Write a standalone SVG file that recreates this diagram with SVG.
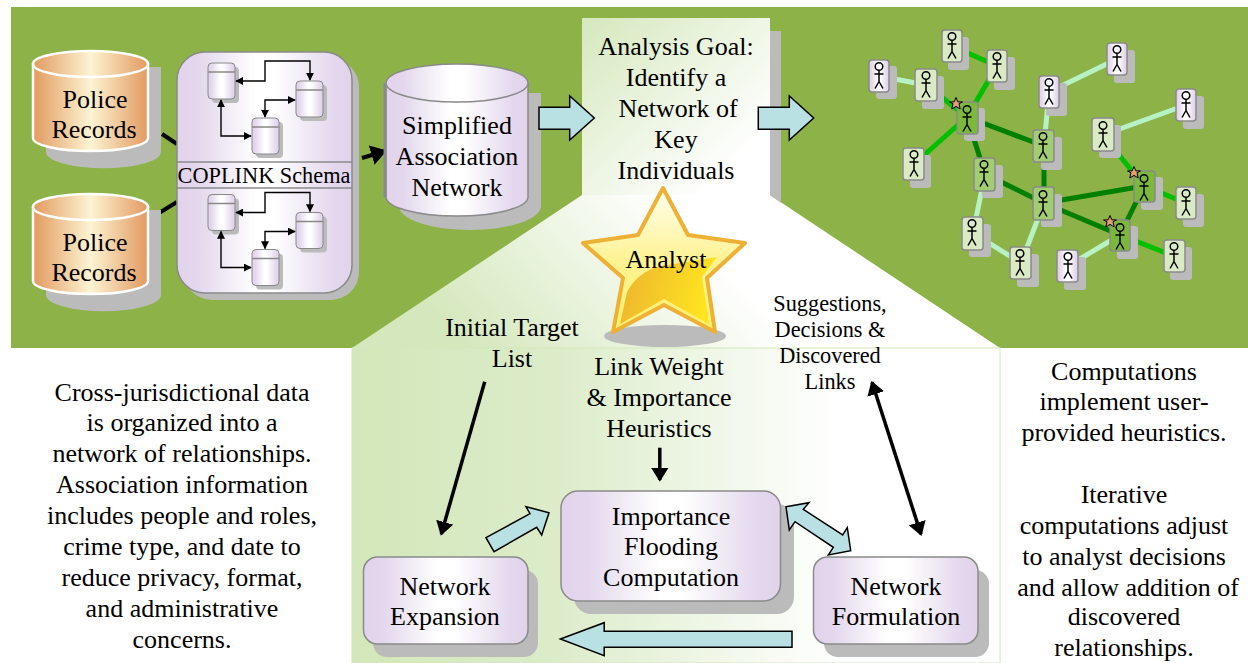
<svg xmlns="http://www.w3.org/2000/svg" xmlns:xlink="http://www.w3.org/1999/xlink" width="1248" height="663" viewBox="0 0 1248 663">
<defs>
<linearGradient id="orange" x1="0" x2="1" y1="0" y2="0"><stop offset="0" stop-color="#e29a60"/><stop offset=".5" stop-color="#fdf4d3"/><stop offset="1" stop-color="#e29a60"/></linearGradient>
<linearGradient id="purple" x1="0" x2="1" y1="0" y2="0"><stop offset="0" stop-color="#e1d3eb"/><stop offset=".12" stop-color="#e3d7ed"/><stop offset=".45" stop-color="#ffffff"/><stop offset=".55" stop-color="#ffffff"/><stop offset=".9" stop-color="#e3d7ed"/><stop offset="1" stop-color="#e1d3eb"/></linearGradient>
<linearGradient id="goal" gradientUnits="userSpaceOnUse" x1="582" y1="18" x2="730" y2="170"><stop offset="0" stop-color="#d5e8bd"/><stop offset="1" stop-color="#ffffff"/></linearGradient>
<linearGradient id="trap" gradientUnits="userSpaceOnUse" x1="480" y1="360" x2="660" y2="195"><stop offset="0" stop-color="#d5e8bd"/><stop offset="1" stop-color="#ffffff"/></linearGradient>
<linearGradient id="panel" x1="0" x2="1" y1="0" y2="0"><stop offset="0" stop-color="#d3e7ba"/><stop offset=".3" stop-color="#dbecc8"/><stop offset=".75" stop-color="#ffffff"/></linearGradient>
<linearGradient id="starL" x1="0" x2="0" y1="0" y2="1"><stop offset="0" stop-color="#fffef0"/><stop offset=".5" stop-color="#fff394"/><stop offset="1" stop-color="#fff06a"/></linearGradient>
<linearGradient id="starD" gradientUnits="userSpaceOnUse" x1="625" y1="290" x2="705" y2="310"><stop offset="0" stop-color="#efb92f"/><stop offset="1" stop-color="#ffe41f"/></linearGradient>
<marker id="ah" viewBox="0 0 8 10" refX="7" refY="5" markerWidth="4" markerHeight="5" orient="auto-start-reverse"><path d="M0 0L8 5L0 10Z" fill="#000"/></marker>
<marker id="as" viewBox="0 0 10 10" refX="9" refY="5" markerWidth="8" markerHeight="8" orient="auto-start-reverse" markerUnits="userSpaceOnUse"><path d="M0 0L10 5L0 10Z" fill="#000"/></marker>
<g id="person" fill="none" stroke="#000" stroke-width="1.500"><circle cx="0" cy="-9.500" r="3.800"/><path d="M0-5.500V5.500M-4.500-2H4.500M0 5.500L-4 12.500M0 5.500L4 12.500"/></g>
<g id="mini">
<rect x="4" y="4" width="27" height="36" rx="4" fill="#bbb"/>
<rect x="0" y="0" width="27" height="36" rx="4" fill="url(#purple)" stroke="#888" stroke-width="1"/>
<path d="M0 9H27" stroke="#888" stroke-width="1.500"/>
</g>
<g id="miniArrows" fill="none" stroke="#000" stroke-width="1.400">
<path d="M236 81H265V61H310V80" marker-start="url(#as)" marker-end="url(#as)"/>
<path d="M295 100H265V117" marker-start="url(#as)" marker-end="url(#as)"/>
<path d="M221 100V136H251" marker-start="url(#as)" marker-end="url(#as)"/>
</g>
<g id="star5"><path d="M0-6.500L1.800-2.200 6.500-2 3-.3 4.200 5 0 2.400-4.200 5-3-.3-6.500-2-1.800-2.200Z" fill="#e2a06e" stroke="#000" stroke-width="1"/></g>
</defs>
<style>
text{font-family:"Liberation Serif","Times New Roman",serif;fill:#000;text-anchor:middle}
.t24{font-size:26px}.t20{font-size:22.300px}
.sh{fill:#bbb}
.box{fill:url(#purple);stroke:#8a8a8a;stroke-width:1.500}
.blk{fill:#b9e0e3;stroke:#000;stroke-width:1.500}
.pw{fill:url(#purple);stroke:#8a8a8a;stroke-width:1.500}
.pl{fill:#d9eac5;stroke:#8a8a8a;stroke-width:1.500}
.pm{fill:#a3cd72;stroke:#8a8a8a;stroke-width:1.500}
.pd{fill:#7cb93a;stroke:#8a8a8a;stroke-width:1.500}
.e1{stroke:#b6f2c4;stroke-width:5;fill:none}
.e2{stroke:#00c000;stroke-width:5;fill:none}
.e3{stroke:#008000;stroke-width:5;fill:none}
</style>
<rect width="1248" height="663" fill="#fff"/>
<rect x="11" y="7" width="1237" height="341" fill="#8db247"/>
<polygon points="582,195 770,195 1000,348 352,348" fill="url(#trap)"/>
<rect x="352" y="348" width="648" height="315" fill="url(#panel)" stroke="#d3e7ba" stroke-width="1"/>
<rect x="770" y="31" width="11" height="164" fill="#bbb"/>
<polygon points="770,195 781,195 781,203" fill="#bbb"/>
<rect x="582" y="18" width="188" height="177" fill="url(#goal)"/>

<g id="connectors-back">
<g fill="none" stroke="#000">
<path d="M162 134L177 144" stroke-width="4"/>
<path d="M159 213L177 202" stroke-width="4"/>
<path d="M362 158L385 151" stroke-width="4" marker-end="url(#ah)"/>
</g>
<g id="net-edges">
<path class="e1" d="M879 76L926 85"/><path class="e2" d="M926 85L967 117"/><path class="e2" d="M952 46L997 66"/><path class="e2" d="M997 66L967 117"/><path class="e2" d="M967 117L914 164"/>
<path class="e3" d="M967 117L1044 146"/><path class="e3" d="M967 117L985 174"/><path class="e3" d="M985 174L1044 203"/><path class="e3" d="M1044 146V203"/>
<path class="e1" d="M1049 92L1044 146"/><path class="e1" d="M1049 92L1117 59"/><path class="e1" d="M985 174L973 233"/><path class="e1" d="M973 233L1021 263"/><path class="e1" d="M1044 203L1021 263"/>
<path class="e1" d="M1103 135L1186 105"/><path class="e2" d="M1103 135L1144 186"/><path class="e2" d="M1144 186L1186 203"/>
<path class="e3" d="M1144 186L1044 203"/><path class="e3" d="M1044 203L1120 235"/><path class="e3" d="M1144 186L1120 235"/><path class="e2" d="M1120 235L1174 256"/><path class="e1" d="M1120 235L1068 266"/>
</g>
</g>

<g id="police1">
<path class="sh" d="M46 67H161V152A57 16 0 0 1 46 152Z"/>
<path d="M33 64V138A57.500 13 0 0 0 148 138V64Z" fill="url(#orange)" stroke="#fff" stroke-width="2.500"/>
<ellipse cx="90.500" cy="64" rx="57.500" ry="13" fill="url(#orange)" stroke="#fff" stroke-width="2.500"/>
<text class="t24" x="95" y="108">Police</text><text class="t24" x="94" y="138">Records</text>
</g>
<g id="police2">
<path class="sh" d="M46 210H161V295A57 16 0 0 1 46 295Z"/>
<path d="M33 207V281A57.500 13 0 0 0 148 281V207Z" fill="url(#orange)" stroke="#fff" stroke-width="2.500"/>
<ellipse cx="90.500" cy="207" rx="57.500" ry="13" fill="url(#orange)" stroke="#fff" stroke-width="2.500"/>
<text class="t24" x="95" y="251">Police</text><text class="t24" x="94" y="281">Records</text>
</g>
<g id="schema">
<rect class="sh" x="184" y="59" width="175" height="241" rx="28"/>
<rect class="box" x="177" y="52" width="175" height="241" rx="28"/>
<path d="M177 162H352M177 188H352" stroke="#8a8a8a" stroke-width="1.500"/>
<text class="t20" x="264" y="183">COPLINK Schema</text>
<use xlink:href="#mini" href="#mini" x="208" y="63"/><use xlink:href="#mini" href="#mini" x="296" y="81"/><use xlink:href="#mini" href="#mini" x="252" y="118"/>
<use xlink:href="#miniArrows" href="#miniArrows"/>
<use xlink:href="#mini" href="#mini" x="208" y="194.500"/><use xlink:href="#mini" href="#mini" x="296" y="212.500"/><use xlink:href="#mini" href="#mini" x="252" y="249.500"/>
<use xlink:href="#miniArrows" href="#miniArrows" y="131.500"/>
</g>
<g id="simplified">
<path class="sh" d="M399 93H541V206A71 24 0 0 1 399 206Z"/>
<path d="M386 83V197A71 19 0 0 0 528 197V83Z" fill="url(#purple)" stroke="#8a8a8a" stroke-width="1.500"/>
<path d="M385 83V197" stroke="#8a8a8a" stroke-width="3"/>
<ellipse cx="457" cy="83" rx="71" ry="19" fill="url(#purple)" stroke="#8a8a8a" stroke-width="1.500"/>
<text class="t24" x="457" y="134">Simplified</text><text class="t24" x="457" y="165">Association</text><text class="t24" x="457" y="196">Network</text>
</g>
<g id="goal-box">
<text class="t24" x="676" y="55">Analysis Goal:</text><text class="t24" x="676" y="86">Identify a</text><text class="t24" x="678" y="117">Network of</text><text class="t24" x="676" y="148">Key</text><text class="t24" x="676" y="179">Individuals</text>
</g>
<g id="analyst">
<ellipse cx="665" cy="336" rx="61" ry="11" fill="#bbb"/>
<polygon points="663,188 688,235 745,243 707,278 715,332 664,305 613,332 623,278 583,243 638,235" fill="url(#starL)" stroke="#eeb136" stroke-width="4" stroke-linejoin="round"/>
<path d="M627 292Q640 268 668 265L717 257 702 277 709 324 664 299 620 324Z" fill="url(#starD)"/>
<text class="t24" x="666" y="268">Analyst</text>
</g>
<g id="network-nodes">
<g id="p1"><rect class="sh" x="876" y="66" width="21" height="33" rx="3"/><rect class="pw" x="869" y="60" width="20" height="32" rx="3"/><use xlink:href="#person" href="#person" x="879" y="76"/></g>
<g id="p2"><rect class="sh" x="922" y="76" width="22" height="33" rx="3"/><rect class="pl" x="915" y="69" width="22" height="32" rx="3"/><use xlink:href="#person" href="#person" x="926" y="85"/></g>
<g id="p3"><rect class="sh" x="948" y="37" width="21" height="33" rx="3"/><rect class="pl" x="942" y="30" width="20" height="32" rx="3"/><use xlink:href="#person" href="#person" x="952" y="46"/></g>
<g id="p4"><rect class="sh" x="994" y="57" width="21" height="33" rx="3"/><rect class="pl" x="987" y="50" width="20" height="32" rx="3"/><use xlink:href="#person" href="#person" x="997" y="66"/></g>
<g id="p5"><rect class="sh" x="964" y="108" width="21" height="33" rx="3"/><rect class="pd" x="957" y="102" width="21" height="32" rx="3"/><use xlink:href="#person" href="#person" x="967" y="119"/><use xlink:href="#star5" href="#star5" x="956" y="104"/></g>
<g id="p6"><rect class="sh" x="910" y="155" width="21" height="33" rx="3"/><rect class="pl" x="903" y="148" width="21" height="32" rx="3"/><use xlink:href="#person" href="#person" x="914" y="164"/></g>
<g id="p7"><rect class="sh" x="1046" y="83" width="21" height="33" rx="3"/><rect class="pw" x="1039" y="76" width="20" height="32" rx="3"/><use xlink:href="#person" href="#person" x="1049" y="92"/></g>
<g id="p8"><rect class="sh" x="1114" y="50" width="21" height="33" rx="3"/><rect class="pw" x="1107" y="43" width="20" height="32" rx="3"/><use xlink:href="#person" href="#person" x="1117" y="59"/></g>
<g id="p9"><rect class="sh" x="1041" y="137" width="21" height="33" rx="3"/><rect class="pm" x="1033" y="130" width="21" height="32" rx="3"/><use xlink:href="#person" href="#person" x="1043" y="146"/></g>
<g id="p10"><rect class="sh" x="982" y="165" width="21" height="33" rx="3"/><rect class="pm" x="974" y="158" width="21" height="33" rx="3"/><use xlink:href="#person" href="#person" x="984" y="174"/></g>
<g id="p11"><rect class="sh" x="1041" y="194" width="21" height="33" rx="3"/><rect class="pm" x="1033" y="187" width="21" height="33" rx="3"/><use xlink:href="#person" href="#person" x="1043" y="204"/></g>
<g id="p12"><rect class="sh" x="969" y="224" width="22" height="33" rx="3"/><rect class="pl" x="962" y="217" width="21" height="33" rx="3"/><use xlink:href="#person" href="#person" x="972" y="233"/></g>
<g id="p13"><rect class="sh" x="1017" y="254" width="22" height="33" rx="3"/><rect class="pl" x="1010" y="247" width="21" height="32" rx="3"/><use xlink:href="#person" href="#person" x="1020" y="263"/></g>
<g id="p14"><rect class="sh" x="1099" y="125" width="22" height="33" rx="3"/><rect class="pl" x="1092" y="118" width="22" height="33" rx="3"/><use xlink:href="#person" href="#person" x="1103" y="135"/></g>
<g id="p15"><rect class="sh" x="1183" y="96" width="21" height="33" rx="3"/><rect class="pw" x="1176" y="89" width="20" height="32" rx="3"/><use xlink:href="#person" href="#person" x="1186" y="105"/></g>
<g id="p16"><rect class="sh" x="1141" y="177" width="22" height="33" rx="3"/><rect class="pd" x="1134" y="171" width="21" height="31" rx="3"/><use xlink:href="#person" href="#person" x="1144" y="188"/><use xlink:href="#star5" href="#star5" x="1134" y="173"/></g>
<g id="p17"><rect class="sh" x="1183" y="194" width="21" height="33" rx="3"/><rect class="pl" x="1176" y="187" width="20" height="32" rx="3"/><use xlink:href="#person" href="#person" x="1186" y="203"/></g>
<g id="p18"><rect class="sh" x="1117" y="226" width="21" height="33" rx="3"/><rect class="pd" x="1110" y="220" width="20" height="31" rx="3"/><use xlink:href="#person" href="#person" x="1120" y="237"/><use xlink:href="#star5" href="#star5" x="1110" y="222"/></g>
<g id="p19"><rect class="sh" x="1170" y="247" width="22" height="33" rx="3"/><rect class="pl" x="1164" y="240" width="21" height="32" rx="3"/><use xlink:href="#person" href="#person" x="1174" y="256"/></g>
<g id="p20"><rect class="sh" x="1064" y="257" width="22" height="33" rx="3"/><rect class="pw" x="1057" y="250" width="21" height="32" rx="3"/><use xlink:href="#person" href="#person" x="1068" y="266"/></g>
</g>
<g id="expansion">
<rect class="sh" x="373" y="570" width="165" height="87" rx="14"/>
<rect class="box" x="363.500" y="557" width="164.500" height="87" rx="14"/>
<text class="t24" x="445" y="595">Network</text><text class="t24" x="445" y="625">Expansion</text>
</g>
<g id="importance">
<rect class="sh" x="574" y="504" width="220" height="110" rx="17"/>
<rect class="box" x="561" y="491" width="219.500" height="110" rx="17"/>
<text class="t24" x="671" y="525">Importance</text><text class="t24" x="671" y="555">Flooding</text><text class="t24" x="671" y="586">Computation</text>
</g>
<g id="formulation">
<rect class="sh" x="824" y="570" width="165" height="87" rx="14"/>
<rect class="box" x="813.500" y="557" width="164.500" height="87" rx="14"/>
<text class="t24" x="896" y="595">Network</text><text class="t24" x="896" y="625">Formulation</text>
</g>
<g id="connectors">
<g fill="none" stroke="#000">
<path d="M484.700 381.700L441.300 534" stroke-width="3.500" marker-end="url(#ah)"/>
<path d="M659.800 447.700V480" stroke-width="3.500" marker-end="url(#ah)"/>
<path d="M872 382.300L921 534.300" stroke-width="3.500" marker-start="url(#ah)" marker-end="url(#ah)"/>
</g>
<polygon class="blk" points="539,107.300 569.700,107.300 569.700,96 594.300,118 569.700,140 569.700,129.300 539,129.300"/>
<polygon class="blk" points="758.300,107.300 789.300,107.300 789.300,96 813.700,118 789.300,140 789.300,129.300 758.300,129.300"/>
<polygon class="blk" points="486,537.700 530,513.700 526,506.700 549,512.700 541.700,535 536.700,527.300 494,551.700"/>
<polygon class="blk" points="786,506.700 809,502.700 803.300,509.300 842.700,535 847.300,527.700 850.700,550.700 828.300,555 833.300,547.300 795,521.700 789.300,530"/>
<polygon class="blk" points="560.400,639 604.200,622.700 604.200,631.300 792,631.300 792,647.300 604.200,647.300 604.200,655.700"/>
</g>
<g id="labels">
<text class="t24" x="512" y="336">Initial Target</text><text class="t24" x="512" y="367">List</text>
<text class="t24" x="659" y="375">Link Weight</text><text class="t24" x="659" y="406">&amp; Importance</text><text class="t24" x="659" y="437">Heuristics</text>
<text class="t20" x="830" y="311">Suggestions,</text><text class="t20" x="830" y="337">Decisions &amp;</text><text class="t20" x="830" y="363">Discovered</text><text class="t20" x="830" y="389">Links</text>
<text class="t24" x="182" y="401">Cross-jurisdictional data</text><text class="t24" x="182" y="431">is organized into a</text><text class="t24" x="182" y="462">network of relationships.</text><text class="t24" x="182" y="493">Association information</text><text class="t24" x="182" y="524">includes people and roles,</text><text class="t24" x="182" y="555">crime type, and date to</text><text class="t24" x="182" y="586">reduce privacy, format,</text><text class="t24" x="182" y="617">and administrative</text><text class="t24" x="182" y="648">concerns.</text>
<text class="t24" x="1124" y="380">Computations</text><text class="t24" x="1124" y="410">implement user-</text><text class="t24" x="1124" y="441">provided heuristics.</text>
<text class="t24" x="1124" y="503">Iterative</text><text class="t24" x="1124" y="534">computations adjust</text><text class="t24" x="1124" y="565">to analyst decisions</text><text class="t24" x="1128" y="596">and allow addition of</text><text class="t24" x="1124" y="625">discovered</text><text class="t24" x="1124" y="656">relationships.</text>
</g>
</svg>
